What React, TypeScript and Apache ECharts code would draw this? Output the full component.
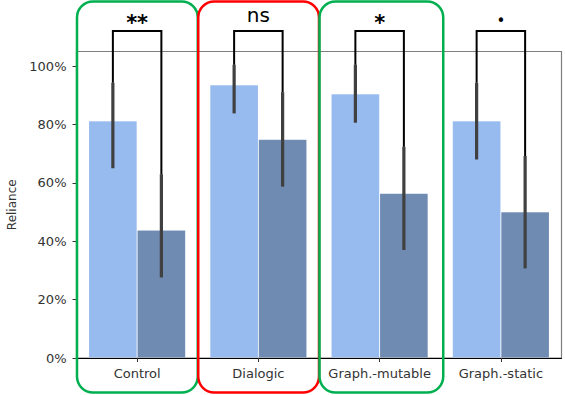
import React, { useEffect, useRef } from 'react';
import * as echarts from 'echarts';

const categories = ['Control', 'Dialogic', 'Graph.-mutable', 'Graph.-static'];
const lightValues = [81.2, 93.6, 90.5, 81.2];
const darkValues = [43.8, 74.9, 56.4, 50.1];
const lightLow = [65.0, 83.8, 80.6, 68.0];
const lightHigh = [94.3, 100.5, 100.5, 94.3];
const darkLow = [27.6, 58.7, 37.0, 30.7];
const darkHigh = [63.0, 91.1, 72.4, 69.2];
const significance = ['**', 'ns', '*', '•'];
const bracketLevel = 112;
const boxColors = ['#00b050', '#ff0000', '#00b050', ''];
const yTicks = [0, 20, 40, 60, 80, 100];

const FONT = 'DejaVu Sans';

export default function App() {
  const ref = useRef<HTMLDivElement>(null);
  useEffect(() => {
    if (!ref.current) return;
    const chart = echarts.init(ref.current, null, { renderer: 'svg' });
    const offsetFrac = 0.2;
    const option: any = {
      animation: false,
      textStyle: { fontFamily: FONT },
      grid: {
        left: 76.5,
        right: 3.5,
        top: 51.5,
        bottom: 37,
        containLabel: false,
        outerBoundsMode: 'none',
        show: true,
        borderColor: '#7f7f7f',
        borderWidth: 1.2,
        backgroundColor: 'transparent',
      },
      xAxis: {
        type: 'category',
        data: categories,
        axisLine: { show: true, lineStyle: { color: '#000', width: 1.2 } },
        axisTick: { show: true, alignWithLabel: true, interval: 0, length: 4, lineStyle: { color: '#333', width: 1 } },
        axisLabel: { color: '#333', fontSize: 13, fontFamily: FONT, margin: 9, interval: 0, hideOverlap: false },
        splitLine: { show: false },
      },
      yAxis: {
        type: 'value',
        min: 0,
        max: 105,
        interval: 20,
        name: 'Reliance',
        nameLocation: 'middle',
        nameGap: 57,
        nameTextStyle: { color: '#333', fontSize: 12, fontFamily: FONT },
        axisLine: { show: false },
        axisTick: { show: true, length: 4, customValues: yTicks, lineStyle: { color: '#333', width: 1 } },
        axisLabel: {
          color: '#333',
          fontSize: 13,
          fontFamily: FONT,
          margin: 10,
          customValues: yTicks,
          formatter: (v: number) => `${v}%`,
        },
        splitLine: { show: false },
      },
      series: [
        {
          type: 'bar',
          data: lightValues,
          barGap: '0%',
          barCategoryGap: '20%',
          itemStyle: { color: '#97bbef', borderColor: 'rgba(255,255,255,0.12)', borderWidth: 0.8 },
          z: 2,
        },
        {
          type: 'bar',
          data: darkValues,
          barGap: '0%',
          barCategoryGap: '20%',
          itemStyle: { color: '#6f8bb2', borderColor: 'rgba(255,255,255,0.12)', borderWidth: 0.8 },
          z: 2,
        },
        {
          type: 'custom',
          z: 4,
          clip: false,
          encode: { x: 0, y: [1, 2, 3, 4] },
          data: categories.map((_, i) => [i, lightLow[i], lightHigh[i], darkLow[i], darkHigh[i]]),
          renderItem: (params: any, api: any) => {
            const idx = api.value(0);
            const bw = api.size([1, 0])[0];
            const off = bw * offsetFrac;
            const l0 = api.coord([idx, api.value(1)]);
            const l1 = api.coord([idx, api.value(2)]);
            const d0 = api.coord([idx, api.value(3)]);
            const d1 = api.coord([idx, api.value(4)]);
            const style = { stroke: '#404040', lineWidth: 3.2 };
            return {
              type: 'group',
              children: [
                { type: 'line', shape: { x1: l0[0] - off, y1: l0[1], x2: l1[0] - off, y2: l1[1] }, style },
                { type: 'line', shape: { x1: d0[0] + off, y1: d0[1], x2: d1[0] + off, y2: d1[1] }, style },
              ],
            };
          },
        },
        {
          type: 'custom',
          z: 5,
          clip: false,
          encode: { x: 0, y: [1, 2, 3] },
          data: categories.map((_, i) => [i, lightHigh[i], darkHigh[i], bracketLevel]),
          renderItem: (params: any, api: any) => {
            const idx = api.value(0);
            const bw = api.size([1, 0])[0];
            const off = bw * offsetFrac;
            const lt = api.coord([idx, api.value(1)]);
            const rt = api.coord([idx, api.value(2)]);
            const top = api.coord([idx, api.value(3)]);
            const xL = lt[0] - off;
            const xR = rt[0] + off;
            const label = significance[params.dataIndex];
            const isStar = label.indexOf('*') >= 0;
            const isDot = label === '•';
            const fs = isStar ? 21 : isDot ? 15 : 20;
            const ty = isStar ? top[1] + 2 : isDot ? top[1] - 3 : top[1] - 6;
            return {
              type: 'group',
              children: [
                {
                  type: 'polyline',
                  shape: { points: [[xL, lt[1]], [xL, top[1]], [xR, top[1]], [xR, rt[1]]] },
                  style: { stroke: '#000', lineWidth: 2, fill: 'none' },
                },
                {
                  type: 'text',
                  x: (xL + xR) / 2,
                  y: ty,
                  style: {
                    text: label,
                    fill: '#000',
                    fontSize: fs,
                    fontFamily: FONT,
                    fontWeight: isStar ? 'bold' : 'normal',
                    align: 'center',
                    verticalAlign: 'bottom',
                  },
                },
              ],
            };
          },
        },
        {
          type: 'custom',
          z: 10,
          clip: false,
          encode: { x: 0, y: 1 },
          data: categories.map((_, i) => [i, 0]),
          renderItem: (params: any, api: any) => {
            const color = boxColors[params.dataIndex];
            if (!color) return { type: 'group', children: [] };
            const idx = api.value(0);
            const bw = api.size([1, 0])[0];
            const c = api.coord([idx, 0]);
            const x0 = c[0] - bw / 2 + 0.5;
            const x1 = c[0] + bw / 2 + (params.dataIndex === 2 ? 3 : 0);
            return {
              type: 'rect',
              shape: { x: x0, y: 1.5, width: x1 - x0, height: 391, r: 16 },
              style: { stroke: color, lineWidth: 2.5, fill: 'none' },
            };
          },
        },
      ],
    };
    chart.setOption(option);
    return () => chart.dispose();
  }, []);
  return <div ref={ref} style={{ width: 565, height: 395, position: 'absolute', left: 0, top: 0 }} />;
}
